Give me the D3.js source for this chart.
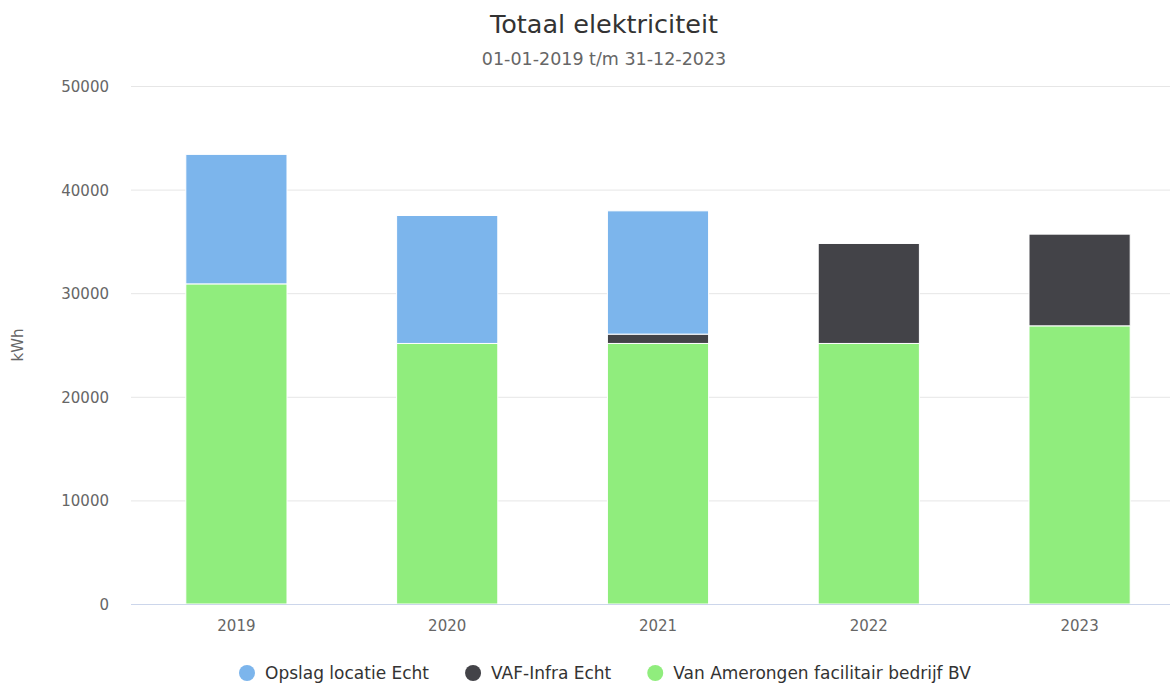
<!DOCTYPE html>
<html>
<head>
<meta charset="utf-8">
<script src="https://cdn.jsdelivr.net/npm/d3@7"></script>
<style>
  html, body { margin: 0; padding: 0; background: #fff; }
  svg { display: block; font-family: "DejaVu Sans", Verdana, sans-serif; }
</style>
</head>
<body>
<svg id="chart" width="1170" height="684"></svg>
<script>
const categories = ["2019", "2020", "2021", "2022", "2023"];
const seriesNames = ["Opslag locatie Echt", "VAF-Infra Echt", "Van Amerongen facilitair bedrijf BV"];
const opslagLocatie = [12500, 12350, 11900, 0, 0];
const vafInfra = [0, 0, 900, 9650, 8850];
const vanAmerongen = [30900, 25150, 25150, 25150, 26850];
const yTicks = [0, 10000, 20000, 30000, 40000, 50000];
const colors = ["#7cb5ec", "#434348", "#90ed7d"];

(function () {
const FONT = '"DejaVu Sans", Verdana, sans-serif';
const svg = d3.select("#chart");
const W = 1170, H = 684;
const pLeft = 131, pRight = 1185, pTop = 86, pBottom = 604;

const x = d3.scaleBand().domain(categories).range([pLeft, pRight]).paddingInner(0.52).paddingOuter(0.26);
const y = d3.scaleLinear().domain([0, 50000]).range([pBottom, pTop]);

// title
svg.append("text").attr("x", 604).attr("y", 33).attr("text-anchor", "middle")
  .attr("fill", "#333333").style("font-size", "25.5px").text("Totaal elektriciteit");
svg.append("text").attr("x", 604).attr("y", 65).attr("text-anchor", "middle")
  .attr("fill", "#666666").style("font-size", "17.5px").text("01-01-2019 t/m 31-12-2023");

// grid
const yAxis = d3.axisLeft(y).tickValues(yTicks).tickSize(-(W - pLeft)).tickFormat(d3.format("d")).tickPadding(22);
const gy = svg.append("g").attr("transform", `translate(${pLeft},0)`).call(yAxis)
  .attr("font-family", FONT).attr("font-size", 15);
gy.select(".domain").remove();
gy.selectAll(".tick line").attr("stroke", "#e6e6e6");
gy.selectAll(".tick text").attr("fill", "#666666").attr("dy", "0.36em");
gy.selectAll(".tick").filter(d => d === 0).select("line").remove();

// y title
svg.append("text").attr("transform", "translate(23,345) rotate(-90)").attr("text-anchor", "middle")
  .attr("fill", "#666666").style("font-size", "15px").text("kWh");

// stacked data
const rows = categories.map((c, i) => ({ cat: c, a: opslagLocatie[i], b: vafInfra[i], c: vanAmerongen[i] }));
const stacked = d3.stack().keys(["c", "b", "a"])(rows);
const colorFor = { a: colors[0], b: colors[1], c: colors[2] };

const bars = svg.append("g");
stacked.forEach(layer => {
  bars.selectAll(null).data(layer.filter(d => d[1] - d[0] > 0)).join("rect")
    .attr("x", d => x(d.data.cat))
    .attr("width", x.bandwidth())
    .attr("y", d => y(d[1]))
    .attr("height", d => y(d[0]) - y(d[1]))
    .attr("fill", colorFor[layer.key])
    .attr("stroke", "#ffffff")
    .attr("stroke-width", 1);
});

// x axis
const xAxis = d3.axisBottom(x).tickSize(0).tickPadding(16);
const gx = svg.append("g").attr("transform", `translate(0,${pBottom})`).call(xAxis)
  .attr("font-family", FONT).attr("font-size", 15);
gx.select(".domain").remove();
gx.selectAll(".tick text").attr("fill", "#666666");
svg.append("line").attr("x1", pLeft).attr("x2", W).attr("y1", pBottom + 0.5).attr("y2", pBottom + 0.5)
  .attr("stroke", "#ccd6eb").attr("stroke-width", 1);

// legend
const legend = svg.append("g");
let lx = 239;
seriesNames.forEach((name, i) => {
  legend.append("circle").attr("cx", lx + 8).attr("cy", 673).attr("r", 8).attr("fill", colors[i]);
  const t = legend.append("text").attr("x", lx + 26).attr("y", 679).attr("fill", "#333333")
    .style("font-size", "17px").text(name);
  const w = t.node().getComputedTextLength();
  lx = lx + 26 + w + 36;
});
})();
</script>
</body>
</html>
